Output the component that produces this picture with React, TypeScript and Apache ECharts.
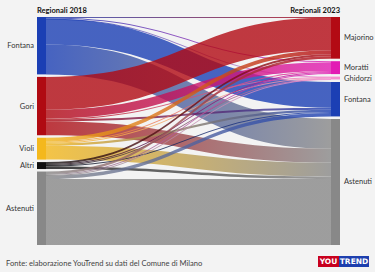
import React, { useEffect, useRef } from "react";
import * as echarts from "echarts";

const leftNodes = ["Fontana", "Gori", "Violi", "Altri", "Astenuti"];
const rightNodes = ["Majorino", "Moratti", "Ghidorzi", "Fontana", "Astenuti"];
const leftColors = ["#1b3fb4", "#b00a12", "#f4b81c", "#111111", "#888888"];
const rightColors = ["#b30a14", "#e21cb4", "#f58fd0", "#1b3fb4", "#888888"];
// rows: 2018 (left), columns: 2023 (right)
const flows = [
  [0.5, 1, 0.3, 26, 30],
  [33, 9, 0.8, 2, 14],
  [4, 1, 0.8, 2.2, 14],
  [2, 1, 0.5, 1, 2.5],
  [2.5, 1, 0.5, 3.5, 66.5],
];
const leftTitle = "Regionali 2018";
const rightTitle = "Regionali 2023";
const sourceText = "Fonte: elaborazione YouTrend su dati del Comune di Milano";

export default function App() {
  const ref = useRef<HTMLDivElement>(null);
  useEffect(() => {
    if (!ref.current) return;
    const chart = echarts.init(ref.current, null, { renderer: "svg" });
    const nodes = [
      ...leftNodes.map((n, i) => ({
        name: "L:" + n,
        itemStyle: { color: leftColors[i] },
        label: { position: "left", distance: 3 },
      })),
      ...rightNodes.map((n, i) => ({
        name: "R:" + n,
        itemStyle: { color: rightColors[i] },
        label: { position: "right", distance: 4 },
      })),
    ];
    const links: any[] = [];
    flows.forEach((row, i) =>
      row.forEach((v, j) => {
        links.push({ source: "L:" + leftNodes[i], target: "R:" + rightNodes[j], value: v });
      })
    );
    chart.setOption({
      animation: false,
      backgroundColor: "#f3f3f3",
      graphic: [
        {
          type: "text",
          left: 37,
          top: 6,
          style: { text: leftTitle, font: "bold 7.5px Lato", fill: "#111" },
        },
        {
          type: "text",
          right: 35,
          top: 6,
          style: { text: rightTitle, font: "bold 7.5px Lato", fill: "#111" },
        },
        {
          type: "text",
          left: 6,
          top: 259,
          style: { text: sourceText, font: "7.6px Lato", fill: "#444" },
        },
        {
          type: "group",
          left: 318,
          top: 256,
          children: [
            { type: "rect", shape: { x: 0, y: 0, width: 21, height: 11 }, style: { fill: "#c8001e" } },
            { type: "rect", shape: { x: 21, y: 0, width: 30, height: 11 }, style: { fill: "#1d3fae" } },
            {
              type: "text",
              x: 10.5,
              y: 5.8,
              style: { text: "YOU", font: "bold 7.5px 'DejaVu Sans'", fill: "#fff", align: "center", verticalAlign: "middle" },
            },
            {
              type: "text",
              x: 36,
              y: 5.8,
              style: { text: "TREND", font: "bold 7.5px 'DejaVu Sans'", fill: "#fff", align: "center", verticalAlign: "middle" },
            },
          ],
        },
      ],
      series: [
        {
          type: "sankey",
          left: 37,
          right: 35,
          top: 17,
          bottom: 27,
          nodeWidth: 9,
          nodeGap: 2.5,
          layoutIterations: 0,
          draggable: false,
          emphasis: { disabled: true },
          data: nodes,
          links,
          itemStyle: { borderWidth: 0 },
          lineStyle: { color: "gradient", opacity: 0.8, curveness: 0.5 },
          label: {
            fontSize: 7.5,
            fontFamily: "Lato",
            color: "#333",
            formatter: (p: any) => p.name.slice(2),
          },
        },
      ],
    });
    return () => chart.dispose();
  }, []);
  return <div ref={ref} style={{ position: "fixed", left: 0, top: 0, width: 375, height: 272 }} />;
}
